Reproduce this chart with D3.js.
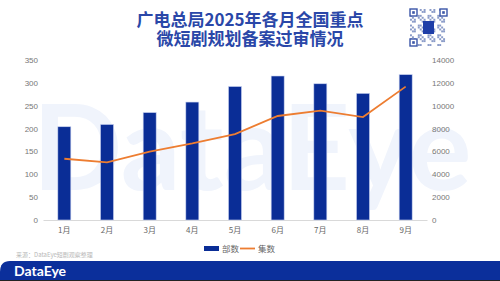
<!DOCTYPE html>
<html><head><meta charset="utf-8">
<script src="https://cdn.jsdelivr.net/npm/d3@7/dist/d3.min.js"></script>
<style>html,body{margin:0;padding:0;background:#fff;}svg{display:block;}</style>
</head><body>
<script>
const months = ["1月","2月","3月","4月","5月","6月","7月","8月","9月"];
const buShu = [204, 209, 235, 258, 292, 315, 298, 277, 318];
const jiShu = [5360, 5050, 5980, 6700, 7520, 9100, 9570, 9010, 11670];
const leftTicks = [0, 50, 100, 150, 200, 250, 300, 350];
const rightTicks = [0, 2000, 4000, 6000, 8000, 10000, 12000, 14000];
const seriesNames = ["部数", "集数"];
const titleLines = ["广电总局2025年各月全国重点", "微短剧规划备案过审情况"];

const W = 500, H = 281;
const blue = "#0a2d96", orange = "#ed7d31";
const svg = d3.select("body").append("svg").attr("width", W).attr("height", H);
svg.append("rect").attr("width", W).attr("height", H).attr("fill", "#fff");

// watermark
svg.append("text").attr("x", 252).attr("y", 190).attr("text-anchor", "middle")
  .attr("font-family", "Lato, Arial, sans-serif").attr("font-weight", 700).attr("font-size", 118)
  .attr("fill", "#f0f4fc").text("DataEye");

// title
const tf = "'Noto Sans CJK SC', sans-serif";
svg.selectAll("text.title").data(titleLines).join("text").attr("class", "title")
  .attr("x", 250).attr("y", (d, i) => 26 + i * 19).attr("text-anchor", "middle")
  .attr("font-family", tf).attr("font-weight", 700).attr("font-size", 17)
  .attr("fill", "#2a47a8").text(d => d);

// QR placeholder
const qr = svg.append("g").attr("transform", "translate(410,9)");
qr.append("rect").attr("width", 37).attr("height", 37).attr("fill", "#fff");
const cells = 19, cs = 37 / cells;
for (let r = 0; r < cells; r++) for (let c = 0; c < cells; c++) {
  if (((r * 7 + c * 13 + r * c) % 5) < 2) qr.append("rect").attr("x", c * cs).attr("y", r * cs).attr("width", cs).attr("height", cs).attr("fill", "#8a9bc8");
}
[[0,0],[30,0],[0,30]].forEach(([x,y]) => {
  qr.append("rect").attr("x", x).attr("y", y).attr("width", 7).attr("height", 7).attr("fill", "#fff").attr("stroke", "#3a55a8").attr("stroke-width", 1.4);
  qr.append("rect").attr("x", x + 2.2).attr("y", y + 2.2).attr("width", 2.6).attr("height", 2.6).attr("fill", "#3a55a8");
});
qr.append("rect").attr("x", 13).attr("y", 12).attr("width", 11).attr("height", 13).attr("fill", "#1e3ea8");

// scales
const x = d3.scaleBand().domain(months).range([43, 427]).paddingInner(0).paddingOuter(0);
const yL = d3.scaleLinear().domain([0, 350]).range([220, 60]);
const yR = d3.scaleLinear().domain([0, 14000]).range([220, 60]);

const af = "Arial, 'Liberation Sans', sans-serif";
const gl = svg.append("g").attr("transform", "translate(40,0)")
  .call(d3.axisLeft(yL).tickValues(leftTicks).tickSize(0).tickPadding(2).tickFormat(d3.format("d")));
gl.select(".domain").remove();
gl.selectAll("text").attr("font-family", af).attr("font-size", 8).attr("fill", "#777");

const gr = svg.append("g").attr("transform", "translate(430,0)")
  .call(d3.axisRight(yR).tickValues(rightTicks).tickSize(0).tickPadding(2).tickFormat(d3.format("d")));
gr.select(".domain").remove();
gr.selectAll("text").attr("font-family", af).attr("font-size", 8).attr("fill", "#777");

const gx = svg.append("g").attr("transform", "translate(0,220)")
  .call(d3.axisBottom(x).tickSize(0).tickPadding(7));
gx.select(".domain").attr("stroke", "#d9d9d9");
gx.selectAll("text").attr("font-family", "'Noto Sans CJK SC', sans-serif").attr("font-size", 8).attr("fill", "#666");

// bars
const bw = 13;
svg.selectAll("rect.bar").data(buShu).join("rect").attr("class", "bar")
  .attr("x", (d, i) => x(months[i]) + x.bandwidth() / 2 - bw / 2)
  .attr("width", bw)
  .attr("y", d => yL(d)).attr("height", d => yL(0) - yL(d))
  .attr("fill", blue).attr("stroke", "#c9d3f0").attr("stroke-width", 0.6);

// line
const line = d3.line().x((d, i) => x(months[i]) + x.bandwidth() / 2).y(d => yR(d));
svg.append("path").datum(jiShu).attr("d", line).attr("fill", "none")
  .attr("stroke", orange).attr("stroke-width", 1.8);

// legend
const lg = svg.append("g");
lg.append("rect").attr("x", 204).attr("y", 246).attr("width", 15).attr("height", 5).attr("fill", blue);
lg.append("text").attr("x", 222).attr("y", 252).attr("font-family", tf).attr("font-size", 8.5).attr("fill", "#666").text(seriesNames[0]);
lg.append("line").attr("x1", 240).attr("x2", 255).attr("y1", 248.5).attr("y2", 248.5).attr("stroke", orange).attr("stroke-width", 1.8);
lg.append("text").attr("x", 258).attr("y", 252).attr("font-family", tf).attr("font-size", 8.5).attr("fill", "#666").text(seriesNames[1]);

// source
svg.append("text").attr("x", 16).attr("y", 257).attr("font-family", tf).attr("font-size", 6).attr("fill", "#b8b8b8").text("来源：DataEye短剧观察整理");

// footer
svg.append("path").attr("d", "M0,272 Q0,261 10,261 L500,261 L500,280 L0,280 Z").attr("fill", "#0b2f9b");
svg.append("text").attr("x", 14).attr("y", 276).attr("font-family", "Lato, Arial, sans-serif").attr("font-weight", 700).attr("font-size", 14).attr("fill", "#fff").text("DataEye");
svg.append("rect").attr("x", 0).attr("y", 280).attr("width", 500).attr("height", 1).attr("fill", "#222");
</script>
</body></html>
